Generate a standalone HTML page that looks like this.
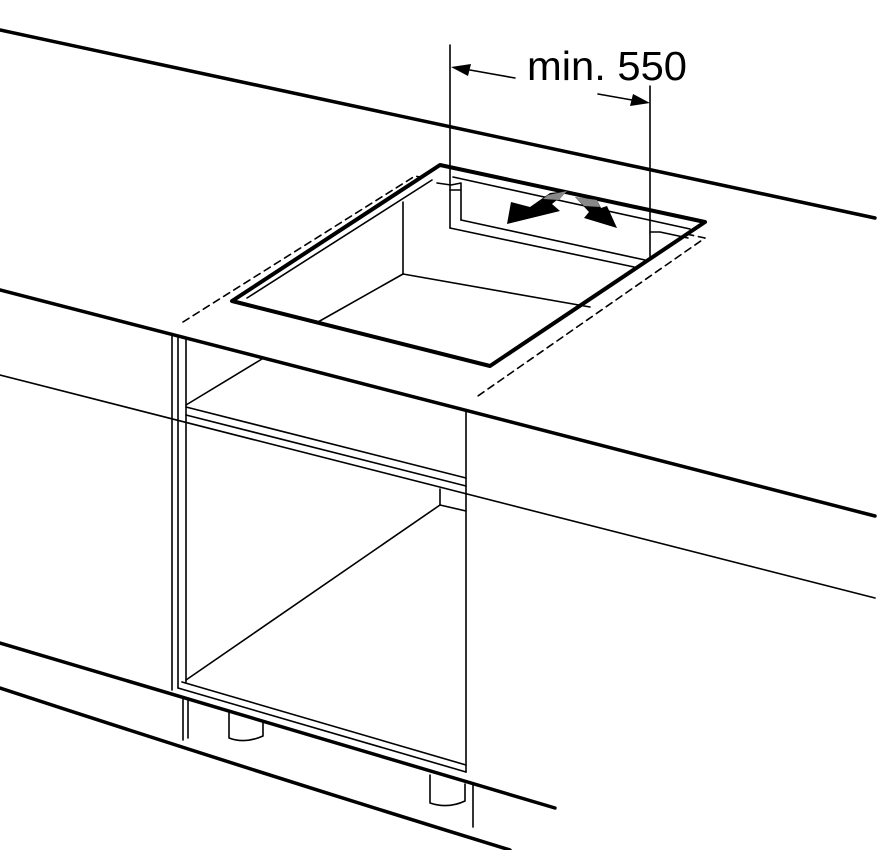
<!DOCTYPE html>
<html><head><meta charset="utf-8"><style>html,body{margin:0;padding:0;background:#fff}svg{display:block}</style></head>
<body>
<svg width="882" height="850" viewBox="0 0 882 850" xmlns="http://www.w3.org/2000/svg" fill="none" stroke="#000" stroke-linecap="round" stroke-linejoin="round">
<line x1="0" y1="30" x2="875" y2="218" stroke-width="3.5"/>
<line x1="0" y1="290" x2="875" y2="516" stroke-width="3.5"/>
<line x1="0" y1="375" x2="875" y2="598" stroke-width="1.6"/>
<line x1="0" y1="643" x2="555" y2="808" stroke-width="3.5"/>
<path d="M0 688 Q250 770 510 850" stroke-width="3.5"/>
<path d="M183 322 L415 176 L705 238 L475 398" stroke-width="1.6" stroke-dasharray="7,5"/>
<path d="M440 165 L232 301 L490 366 L705 222 Z" stroke-width="4" fill="#fff"/>
<line x1="247" y1="298" x2="432" y2="180" stroke-width="1.6"/>
<line x1="403" y1="202" x2="403" y2="274" stroke-width="1.6"/>
<line x1="403" y1="274" x2="590" y2="307" stroke-width="1.6"/>
<line x1="403" y1="274" x2="318" y2="322" stroke-width="1.6"/>
<line x1="453" y1="177" x2="690" y2="229" stroke-width="1.6"/>
<path d="M437 183 L451 185 L461 183 L461 220 M450 190 L461 190" stroke-width="1.6"/>
<line x1="450" y1="228" x2="634" y2="267" stroke-width="1.6"/>
<line x1="461" y1="220" x2="645" y2="260" stroke-width="1.6"/>
<path d="M650 232 L660 232 L688 238" stroke-width="1.6"/>
<line x1="450" y1="45" x2="450" y2="228" stroke-width="1.6"/>
<line x1="650" y1="86" x2="650" y2="258" stroke-width="1.6"/>
<line x1="470" y1="70" x2="515" y2="78" stroke-width="1.6"/>
<polygon points="451,67 471,64 468,76" fill="#000" stroke="none"/>
<line x1="598" y1="94" x2="632" y2="100" stroke-width="1.6"/>
<polygon points="650,103 630,106 633,94" fill="#000" stroke="none"/>
<text x="527" y="80" font-family="Liberation Sans, sans-serif" font-size="41" textLength="160" lengthAdjust="spacingAndGlyphs" fill="#000" stroke="none">min. 550</text>
<polygon points="507,224 511,202 530,207 550,193 568,191 552,204 560,211" fill="#000" stroke="none"/>
<polygon points="548,195 567,191 559,200 543,199" fill="#888" stroke="none"/>
<polygon points="575,197 597,200 601,208 607,206 617,228 584,218 589,212" fill="#000" stroke="none"/>
<polygon points="575,197 597,200 600,207 584,206" fill="#888" stroke="none"/>
<line x1="172" y1="336" x2="172" y2="690" stroke-width="1.6"/>
<line x1="178" y1="336" x2="178" y2="688" stroke-width="1.6"/>
<line x1="186" y1="338" x2="186" y2="682" stroke-width="1.6"/>
<line x1="466" y1="412" x2="466" y2="772" stroke-width="1.6"/>
<line x1="186" y1="405" x2="262" y2="359" stroke-width="1.6"/>
<line x1="186" y1="407" x2="466" y2="478" stroke-width="1.6"/>
<line x1="186" y1="415" x2="466" y2="486" stroke-width="1.6"/>
<line x1="440" y1="489" x2="440" y2="505" stroke-width="1.6"/>
<line x1="440" y1="505" x2="466" y2="511" stroke-width="1.6"/>
<line x1="440" y1="505" x2="186" y2="680" stroke-width="1.6"/>
<line x1="182" y1="682" x2="466" y2="765" stroke-width="1.6"/>
<line x1="178" y1="688" x2="466" y2="772" stroke-width="1.6"/>
<line x1="183" y1="698" x2="183" y2="740" stroke-width="1.6"/>
<line x1="188" y1="698" x2="188" y2="738" stroke-width="1.6"/>
<line x1="473" y1="783" x2="473" y2="827" stroke-width="1.6"/>
<path d="M229 712 L229 738 Q245 744 263 736 L263 722" stroke-width="1.6"/>
<path d="M430 775 L430 803 Q448 809 465 801 L465 784" stroke-width="1.6"/>
</svg>
</body></html>
